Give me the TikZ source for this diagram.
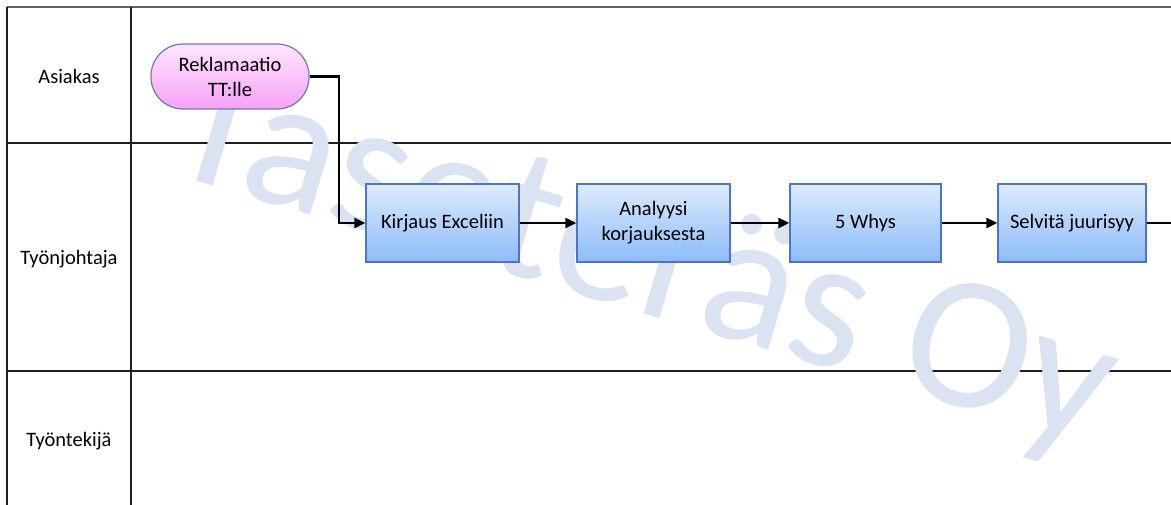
\documentclass[tikz,border=0pt]{standalone}
\usepackage{fontspec}
\setmainfont{Carlito}
\usetikzlibrary{arrows.meta}
\definecolor{laneline}{HTML}{1E1E1E}
\definecolor{wmark}{HTML}{DBE3F2}
\definecolor{procborder}{HTML}{4F76B6}
\definecolor{proctop}{HTML}{DDEAFD}
\definecolor{procbot}{HTML}{8DBBF9}
\definecolor{startborder}{HTML}{7474BE}
\definecolor{starttop}{HTML}{FDE6FD}
\definecolor{startbot}{HTML}{F7A2F7}
\tikzset{
  lane/.style={draw=laneline, line width=1.4pt},
  lanelabel/.style={font=\fontsize{20.5}{25}\selectfont, text=black},
  procbox/.style={draw=procborder, line width=1.2pt, top color=proctop, bottom color=procbot,
    minimum height=78pt, align=center, font=\fontsize{20.5}{25}\selectfont, inner sep=0pt},
  startbox/.style={draw=startborder, line width=1.2pt, top color=starttop, bottom color=startbot,
    minimum width=158pt, minimum height=65pt, rounded corners=32pt, align=center,
    font=\fontsize{20.5}{25}\selectfont, inner sep=0pt},
  flow/.style={draw=black, line width=2.2pt, -{Triangle[length=11pt,width=10pt]}},
  flowplain/.style={draw=black, line width=2.2pt},
}
\begin{document}
\begin{tikzpicture}[x=1pt,y=-1pt]
  \useasboundingbox (0,0) rectangle (1171,505);
  \clip (0,0) rectangle (1171,505);
  \fill[white] (0,0) rectangle (1171,505);

  % swimlane frame
  \draw[lane, draw=laneline!70, line width=2pt] (7,7) -- (1171,7);
  \draw[lane] (7,7) -- (7,505);
  \draw[lane] (131,7) -- (131,505);
  \draw[lane] (7,143) -- (1171,143);
  \draw[lane] (7,371) -- (1171,371);

  % lane names
  \node[lanelabel] (l1) at (69,76) {Asiakas};
  \node[lanelabel] (l2) at (69,259) {Työnjohtaja};
  \node[lanelabel] (l3) at (69,441) {Työntekijä};

  % company watermark
  \node[anchor=base west, rotate=-16.5, text=wmark, inner sep=0pt,
        font=\fontsize{190}{190}\selectfont] (wm) at (160,170) {Taseteräs Oy};

  % process steps
  \node[startbox] (rek) at (230,76.5) {Reklamaatio\\TT:lle};
  \node[procbox, minimum width=153pt] (kir) at (442.5,223) {Kirjaus Exceliin};
  \node[procbox, minimum width=153pt] (ana) at (653.5,223) {Analyysi\\korjauksesta};
  \node[procbox, minimum width=151pt] (why) at (865.5,223) {5 Whys};
  \node[procbox, minimum width=148pt] (sel) at (1072,223) {Selvitä juurisyy};

  % flow
  \coordinate (out) at (1175,223);
  \draw[flow] (rek.east) -- ++(29,0) |- (kir.west);
  \draw[flow] (kir) -- (ana);
  \draw[flow] (ana) -- (why);
  \draw[flow] (why) -- (sel);
  \draw[flowplain] (sel.east) -- (out);
\end{tikzpicture}
\end{document}
